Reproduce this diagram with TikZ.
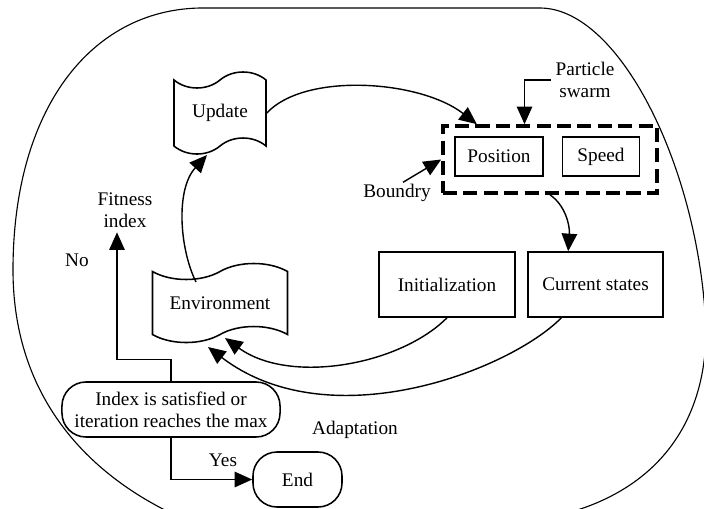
\documentclass[tikz,border=0pt]{standalone}
\usepackage{fontspec}
\setmainfont{Liberation Serif}
\usepackage{tikz}
\usetikzlibrary{arrows.meta,shapes.symbols,calc}

\begin{document}
\begin{tikzpicture}[x=0.025cm, y=-0.025cm,
  font=\fontsize{13.7}{15.5}\selectfont,
  box/.style={draw, line width=1.1pt, align=center},
  flag/.style={tape, draw, line width=1.1pt, tape bend height=0.4cm},
  term/.style={draw, line width=1.1pt, rounded corners=0.6cm, align=center},
  arr/.style={line width=1pt, -{Triangle[length=12.5pt,width=11pt]}},
  lbl/.style={align=center}]
 \useasboundingbox (0,0) rectangle (704,508);
 % outer loop
 \begin{scope}
 \clip (0,0) rectangle (704,508);
 \draw [line width=0.8pt] (175,515) .. controls (80,470) and (13,390) .. (13,270)
   .. controls (13,110) and (90,10) .. (200,8) -- (540,8)
   .. controls (620,8) and (700,170) .. (706,330)
   .. controls (706,420) and (660,490) .. (560,515);
 \end{scope}

 % particle swarm
 \node (swarm) at (550,159.5) [draw, line width=2.6pt, dash pattern=on 10pt off 4.5pt,
   minimum width=5.35cm, minimum height=1.675cm] { };
 \node (pos) at (499,156.5) [box, minimum width=2.2cm, minimum height=0.975cm] {Position};
 \node (spd) at (601,156.5) [box, minimum width=1.925cm, minimum height=0.975cm] {Speed};
 \node (init) at (447,284.5) [box, minimum width=3.4cm, minimum height=1.625cm] {Initialization};
 \node (cur) at (595.5,284.5) [box, minimum width=3.375cm, minimum height=1.625cm] {Current states};

 \node (upd) at (220,113) [flag, minimum width=2.3cm, minimum height=2.05cm] {Update};
 \node (env) at (220,303) [flag, minimum width=3.375cm, minimum height=1.975cm] {Environment};

 \node (idx) at (171,409.5) [term, minimum width=5.45cm, minimum height=1.375cm]
   {Index is satisfied or\\iteration reaches the max};
 \node (endn) at (297.5,479.5) [term, minimum width=2.225cm, minimum height=1.375cm] {End};

 % labels
 \node (fitness) at (125,210) [lbl] {Fitness\\index};
 \node (no) at (77,260) {No};
 \node (yes) at (223,460) {Yes};
 \node (boundry) at (397,193) {Boundry};
 \node (plabel) at (585,80) [lbl] {Particle\\swarm};
 \node (adapt) at (355,430) {Adaptation};

 % connectors
 \draw [arr] (upd.east) .. controls (305,72) and (420,80) .. ($(swarm.north west)!0.164!(swarm.north east)$);
 \draw [arr] ($(env.center)+(-24,-21)$) .. controls (180,250) and (175,190) .. ($(upd.center)+(-13,42)$);
 \draw [arr] (swarm.south) .. controls (565,205) and (570,225) .. ($(cur.north west)!0.3!(cur.north east)$);
 \draw [arr] (init.south) .. controls (400,365) and (290,385) .. ($(env.center)+(5,35)$);
 \draw [arr] ($(cur.south west)!0.25!(cur.south east)$) .. controls (510,370) and (330,440) .. ($(env.center)+(-12,44)$);
 \draw [arr] (idx.north) -- ++(0,-22) -| ($(fitness.south)+(-8,0)$);
 \draw [arr] (idx.south) |- (endn.west);
 \draw [arr] ($(boundry.north)+(6,3)$) -- (swarm.west);
 \draw [arr] (plabel.west) -| ($(swarm.north west)!0.383!(swarm.north east)$);
\end{tikzpicture}
\end{document}
